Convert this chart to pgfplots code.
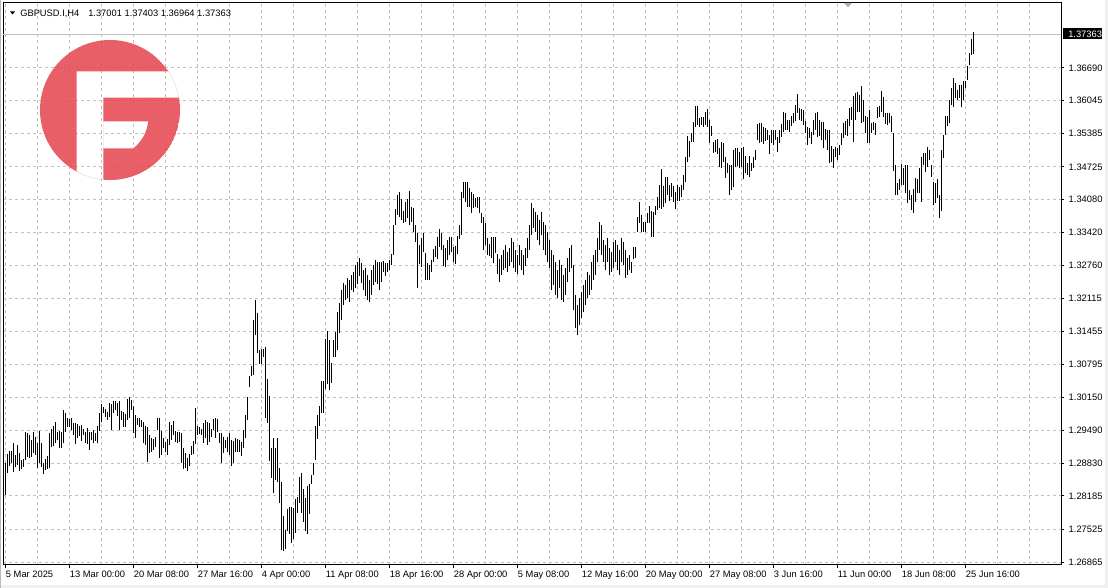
\documentclass[border=0pt]{standalone}
\usepackage{pgfplots}
\pgfplotsset{compat=1.18}
\usepackage{pgfplotstable}
\usepackage{fontspec}
\setmainfont{Liberation Sans}
\definecolor{gridc}{RGB}{192,192,192}
\definecolor{logored}{RGB}{230,73,83}
\definecolor{winbg}{RGB}{240,240,240}

\pgfplotstableread{
i lo hi
0 1.2820 1.2884
1 1.2864 1.2902
2 1.2878 1.2908
3 1.2884 1.2908
4 1.2866 1.2924
5 1.2876 1.2900
6 1.2880 1.2920
7 1.2868 1.2904
8 1.2872 1.2890
9 1.2876 1.2892
10 1.2890 1.2946
11 1.2896 1.2944
12 1.2894 1.2940
13 1.2896 1.2930
14 1.2904 1.2946
15 1.2900 1.2936
16 1.2874 1.2924
17 1.2884 1.2948
18 1.2876 1.2924
19 1.2862 1.2884
20 1.2870 1.2892
21 1.2872 1.2898
22 1.2874 1.2944
23 1.2916 1.2952
24 1.2918 1.2958
25 1.2924 1.2965
26 1.2930 1.2946
27 1.2914 1.2948
28 1.2914 1.2946
29 1.2924 1.2989
30 1.2946 1.2983
31 1.2956 1.2973
32 1.2956 1.2971
33 1.2950 1.2973
34 1.2940 1.2963
35 1.2922 1.2963
36 1.2934 1.2961
37 1.2938 1.2958
38 1.2928 1.2960
39 1.2940 1.2952
40 1.2924 1.2946
41 1.2922 1.2954
42 1.2910 1.2946
43 1.2930 1.2946
44 1.2924 1.2950
45 1.2928 1.2944
46 1.2924 1.2958
47 1.2948 1.2983
48 1.2965 1.3001
49 1.2983 1.2995
50 1.2975 1.2991
51 1.2969 1.2985
52 1.2975 1.3003
53 1.2950 1.3001
54 1.2983 1.3007
55 1.2989 1.3007
56 1.2977 1.3003
57 1.2950 1.3007
58 1.2969 1.2987
59 1.2956 1.2985
60 1.2956 1.2981
61 1.2969 1.3011
62 1.2973 1.3015
63 1.2989 1.3009
64 1.2944 1.2997
65 1.2934 1.2979
66 1.2959 1.2973
67 1.2956 1.2973
68 1.2956 1.2969
69 1.2924 1.2965
70 1.2920 1.2958
71 1.2886 1.2956
72 1.2904 1.2940
73 1.2906 1.2934
74 1.2910 1.2932
75 1.2916 1.2936
76 1.2950 1.2973
77 1.2894 1.2973
78 1.2900 1.2948
79 1.2914 1.2934
80 1.2906 1.2926
81 1.2900 1.2932
82 1.2920 1.2965
83 1.2930 1.2960
84 1.2940 1.2967
85 1.2926 1.2948
86 1.2924 1.2946
87 1.2926 1.2946
88 1.2884 1.2944
89 1.2872 1.2914
90 1.2874 1.2904
91 1.2868 1.2894
92 1.2878 1.2902
93 1.2900 1.2918
94 1.2902 1.2928
95 1.2922 1.2993
96 1.2940 1.2958
97 1.2942 1.2956
98 1.2940 1.2952
99 1.2924 1.2963
100 1.2934 1.2969
101 1.2920 1.2965
102 1.2926 1.2963
103 1.2936 1.2952
104 1.2950 1.2971
105 1.2934 1.2973
106 1.2946 1.2971
107 1.2924 1.2944
108 1.2884 1.2944
109 1.2904 1.2936
110 1.2914 1.2930
111 1.2906 1.2936
112 1.2900 1.2944
113 1.2878 1.2930
114 1.2884 1.2928
115 1.2906 1.2934
116 1.2906 1.2932
117 1.2906 1.2930
118 1.2898 1.2926
119 1.2914 1.2950
120 1.2934 1.2979
121 1.2969 1.3015
122 1.3035 1.3057
123 1.3057 1.3077
124 1.3059 1.3168
125 1.3138 1.3208
126 1.3103 1.3182
127 1.3081 1.3109
128 1.3081 1.3111
129 1.3095 1.3111
130 1.2973 1.3115
131 1.2963 1.3051
132 1.2888 1.3017
133 1.2854 1.2914
134 1.2824 1.2934
135 1.2850 1.2914
136 1.2846 1.2934
137 1.2805 1.2874
138 1.2711 1.2846
139 1.2709 1.2779
140 1.2713 1.2751
141 1.2749 1.2793
142 1.2743 1.2797
143 1.2725 1.2797
144 1.2733 1.2795
145 1.2745 1.2812
146 1.2785 1.2816
147 1.2805 1.2856
148 1.2785 1.2864
149 1.2767 1.2832
150 1.2749 1.2814
151 1.2743 1.2838
152 1.2783 1.2842
153 1.2842 1.2860
154 1.2860 1.2884
155 1.2890 1.2958
156 1.2932 1.2979
157 1.2958 1.2997
158 1.2983 1.3047
159 1.2983 1.3047
160 1.3031 1.3130
161 1.3041 1.3146
162 1.3029 1.3128
163 1.3043 1.3083
164 1.3095 1.3128
165 1.3095 1.3144
166 1.3109 1.3184
167 1.3142 1.3202
168 1.3168 1.3228
169 1.3198 1.3242
170 1.3208 1.3238
171 1.3212 1.3252
172 1.3204 1.3248
173 1.3228 1.3258
174 1.3224 1.3264
175 1.3232 1.3277
176 1.3240 1.3283
177 1.3256 1.3291
178 1.3242 1.3281
179 1.3228 1.3268
180 1.3216 1.3271
181 1.3208 1.3258
182 1.3204 1.3248
183 1.3218 1.3268
184 1.3238 1.3277
185 1.3244 1.3287
186 1.3240 1.3283
187 1.3228 1.3283
188 1.3244 1.3283
189 1.3264 1.3285
190 1.3256 1.3281
191 1.3264 1.3281
192 1.3267 1.3287
193 1.3277 1.3299
194 1.3297 1.3357
195 1.3357 1.3389
196 1.3377 1.3417
197 1.3373 1.3423
198 1.3367 1.3409
199 1.3361 1.3385
200 1.3363 1.3403
201 1.3371 1.3409
202 1.3357 1.3425
203 1.3363 1.3393
204 1.3343 1.3391
205 1.3323 1.3357
206 1.3232 1.3341
207 1.3279 1.3317
208 1.3273 1.3331
209 1.3303 1.3341
210 1.3248 1.3301
211 1.3248 1.3281
212 1.3248 1.3277
213 1.3264 1.3287
214 1.3283 1.3309
215 1.3293 1.3315
216 1.3289 1.3333
217 1.3313 1.3349
218 1.3307 1.3341
219 1.3275 1.3317
220 1.3273 1.3311
221 1.3287 1.3327
222 1.3297 1.3333
223 1.3303 1.3333
224 1.3283 1.3313
225 1.3279 1.3315
226 1.3299 1.3335
227 1.3329 1.3357
228 1.3337 1.3423
229 1.3411 1.3442
230 1.3403 1.3442
231 1.3393 1.3442
232 1.3393 1.3430
233 1.3381 1.3423
234 1.3391 1.3419
235 1.3393 1.3411
236 1.3391 1.3413
237 1.3381 1.3413
238 1.3361 1.3381
239 1.3307 1.3373
240 1.3317 1.3361
241 1.3297 1.3331
242 1.3295 1.3319
243 1.3291 1.3333
244 1.3281 1.3333
245 1.3301 1.3333
246 1.3260 1.3299
247 1.3244 1.3289
248 1.3258 1.3297
249 1.3268 1.3307
250 1.3271 1.3317
251 1.3264 1.3303
252 1.3275 1.3311
253 1.3283 1.3331
254 1.3271 1.3323
255 1.3264 1.3307
256 1.3260 1.3297
257 1.3277 1.3317
258 1.3268 1.3307
259 1.3258 1.3297
260 1.3275 1.3311
261 1.3291 1.3331
262 1.3307 1.3357
263 1.3337 1.3401
264 1.3351 1.3391
265 1.3343 1.3383
266 1.3327 1.3377
267 1.3317 1.3367
268 1.3337 1.3383
269 1.3307 1.3363
270 1.3297 1.3357
271 1.3283 1.3343
272 1.3271 1.3327
273 1.3228 1.3307
274 1.3238 1.3297
275 1.3218 1.3283
276 1.3212 1.3268
277 1.3232 1.3287
278 1.3208 1.3277
279 1.3204 1.3258
280 1.3218 1.3271
281 1.3244 1.3291
282 1.3264 1.3311
283 1.3271 1.3317
284 1.3188 1.3277
285 1.3152 1.3218
286 1.3138 1.3198
287 1.3158 1.3212
288 1.3172 1.3224
289 1.3184 1.3238
290 1.3198 1.3248
291 1.3212 1.3264
292 1.3218 1.3258
293 1.3228 1.3283
294 1.3248 1.3297
295 1.3258 1.3307
296 1.3283 1.3331
297 1.3307 1.3363
298 1.3297 1.3357
299 1.3283 1.3327
300 1.3267 1.3317
301 1.3283 1.3331
302 1.3258 1.3311
303 1.3264 1.3303
304 1.3271 1.3323
305 1.3283 1.3327
306 1.3267 1.3317
307 1.3258 1.3307
308 1.3283 1.3331
309 1.3277 1.3323
310 1.3252 1.3307
311 1.3258 1.3291
312 1.3267 1.3297
313 1.3262 1.3283
314 1.3289 1.3313
315 1.3291 1.3313
316 1.3343 1.3373
317 1.3361 1.3403
318 1.3343 1.3377
319 1.3343 1.3363
320 1.3343 1.3363
321 1.3361 1.3381
322 1.3361 1.3395
323 1.3333 1.3385
324 1.3333 1.3383
325 1.3377 1.3395
326 1.3387 1.3413
327 1.3391 1.3436
328 1.3389 1.3468
329 1.3393 1.3434
330 1.3401 1.3452
331 1.3417 1.3452
332 1.3405 1.3436
333 1.3413 1.3440
334 1.3403 1.3434
335 1.3389 1.3423
336 1.3405 1.3436
337 1.3405 1.3432
338 1.3413 1.3436
339 1.3426 1.3456
340 1.3442 1.3492
341 1.3482 1.3534
342 1.3492 1.3524
343 1.3522 1.3540
344 1.3522 1.3562
345 1.3552 1.3593
346 1.3556 1.3593
347 1.3552 1.3570
348 1.3556 1.3572
349 1.3552 1.3572
350 1.3556 1.3582
351 1.3552 1.3587
352 1.3520 1.3566
353 1.3534 1.3554
354 1.3500 1.3522
355 1.3502 1.3526
356 1.3498 1.3528
357 1.3472 1.3510
358 1.3470 1.3522
359 1.3482 1.3520
360 1.3450 1.3492
361 1.3460 1.3480
362 1.3417 1.3476
363 1.3426 1.3476
364 1.3432 1.3506
365 1.3472 1.3510
366 1.3474 1.3510
367 1.3470 1.3502
368 1.3472 1.3510
369 1.3448 1.3512
370 1.3460 1.3494
371 1.3456 1.3480
372 1.3452 1.3494
373 1.3464 1.3480
374 1.3470 1.3492
375 1.3486 1.3506
376 1.3526 1.3558
377 1.3520 1.3560
378 1.3522 1.3560
379 1.3518 1.3552
380 1.3524 1.3550
381 1.3526 1.3546
382 1.3498 1.3536
383 1.3520 1.3546
384 1.3516 1.3546
385 1.3526 1.3546
386 1.3502 1.3532
387 1.3520 1.3546
388 1.3532 1.3558
389 1.3542 1.3582
390 1.3546 1.3580
391 1.3546 1.3566
392 1.3542 1.3566
393 1.3554 1.3574
394 1.3560 1.3580
395 1.3564 1.3595
396 1.3580 1.3617
397 1.3566 1.3589
398 1.3564 1.3587
399 1.3556 1.3585
400 1.3540 1.3564
401 1.3516 1.3552
402 1.3530 1.3550
403 1.3518 1.3542
404 1.3536 1.3566
405 1.3546 1.3580
406 1.3532 1.3582
407 1.3534 1.3566
408 1.3526 1.3562
409 1.3510 1.3562
410 1.3526 1.3548
411 1.3506 1.3546
412 1.3480 1.3546
413 1.3482 1.3514
414 1.3470 1.3508
415 1.3492 1.3512
416 1.3486 1.3510
417 1.3496 1.3516
418 1.3516 1.3540
419 1.3530 1.3560
420 1.3536 1.3564
421 1.3534 1.3568
422 1.3554 1.3589
423 1.3566 1.3591
424 1.3522 1.3613
425 1.3566 1.3619
426 1.3581 1.3621
427 1.3581 1.3615
428 1.3560 1.3633
429 1.3562 1.3605
430 1.3540 1.3574
431 1.3520 1.3572
432 1.3520 1.3586
433 1.3540 1.3560
434 1.3546 1.3562
435 1.3536 1.3560
436 1.3570 1.3591
437 1.3572 1.3593
438 1.3581 1.3623
439 1.3572 1.3611
440 1.3558 1.3580
441 1.3556 1.3580
442 1.3560 1.3580
443 1.3542 1.3574
444 1.3464 1.3540
445 1.3417 1.3476
446 1.3417 1.3440
447 1.3426 1.3448
448 1.3436 1.3478
449 1.3436 1.3470
450 1.3420 1.3476
451 1.3401 1.3476
452 1.3407 1.3427
453 1.3387 1.3417
454 1.3381 1.3429
455 1.3403 1.3450
456 1.3420 1.3448
457 1.3420 1.3470
458 1.3403 1.3492
459 1.3476 1.3500
460 1.3462 1.3500
461 1.3472 1.3512
462 1.3486 1.3506
463 1.3452 1.3476
464 1.3397 1.3442
465 1.3401 1.3440
466 1.3411 1.3448
467 1.3371 1.3417
468 1.3385 1.3506
469 1.3490 1.3536
470 1.3536 1.3574
471 1.3554 1.3574
472 1.3560 1.3605
473 1.3595 1.3629
474 1.3591 1.3649
475 1.3609 1.3639
476 1.3605 1.3625
477 1.3609 1.3635
478 1.3591 1.3635
479 1.3605 1.3643
480 1.3629 1.3643
481 1.3645 1.3673
482 1.3675 1.3699
483 1.3695 1.3727
484 1.36964 1.37403
}\bars

\begin{document}
\fontsize{7}{8.4}\selectfont
\begin{tikzpicture}
\useasboundingbox (0,0) rectangle (831pt,441pt);
\fill[winbg] (0,0) rectangle (831pt,441pt);
\begin{scope}[x=0.75pt,y=-0.75pt,shift={(0pt,441pt)}]
  \fill[white] (1,0) rectangle (1105,585);
  \fill[gray!55] (0,0) rectangle (1,588);
\end{scope}
\begin{axis}[
  at={(2.25pt,17.25pt)}, anchor=south west,
  scale only axis, width=793.5pt, height=421.5pt,
  xmin=-1.35, xmax=527.65, ymin=1.26813, ymax=1.37980,
  axis line style={black, line width=0.75pt},
  xtick={0,32,...,480},
  xticklabels={5 Mar 2025,13 Mar 00:00,20 Mar 08:00,27 Mar 16:00,4 Apr 00:00,11 Apr 08:00,18 Apr 16:00,28 Apr 00:00,5 May 08:00,12 May 16:00,20 May 00:00,27 May 08:00,3 Jun 16:00,11 Jun 00:00,18 Jun 08:00,25 Jun 16:00},
  minor xtick={16,48,80,112,144,176,208,240,272,304,336,368,400,432,464,496,512},
  ytick={1.26865,1.27525,1.28185,1.28830,1.29490,1.30150,1.30795,1.31455,1.32115,1.32760,1.33420,1.34080,1.34725,1.35385,1.36045,1.36690},
  yticklabels={1.26865,1.27525,1.28185,1.28830,1.29490,1.30150,1.30795,1.31455,1.32115,1.32760,1.33420,1.34080,1.34725,1.35385,1.36045,1.36690},
  scaled y ticks=false,
  xtick pos=left, ytick pos=right, yticklabel pos=right,
  tick align=outside, major tick length=2.6pt, minor tick length=0pt,
  major tick style={black, line width=0.75pt},
  xmajorgrids, xminorgrids, ymajorgrids,
  major grid style={gridc, dash pattern=on 2.25pt off 2.25pt, line width=0.75pt},
  minor grid style={gridc, dash pattern=on 2.25pt off 2.25pt, line width=0.75pt},
  tick label style={font=\fontsize{7}{8.4}\selectfont, inner sep=0pt, text=black},
  yticklabel style={anchor=west, xshift=3pt},
  xticklabel style={anchor=north west, yshift=-1.8pt},
]
\draw[gridc, line width=0.75pt] (axis cs:-1.35,1.37363) -- (axis cs:527.65,1.37363);
\addplot[draw=none, mark=none, forget plot,
  error bars/.cd, y dir=plus, y explicit, error mark=none,
  error bar style={draw=black, line width=0.95pt, solid}]
  table[x=i, y=lo, y error plus expr=\thisrow{hi}-\thisrow{lo}] {\bars};
\end{axis}
\begin{scope}[x=0.75pt,y=-0.75pt,shift={(0pt,441pt)}]
  % price box
  \fill[black] (1063,28.5) rectangle (1102,39.5);
  \node[anchor=west, inner sep=0pt, text=white] at (1068,34) {1.37363};
  % title
  \fill[black] (10,11.5) -- (15,11.5) -- (12.5,14.5) -- cycle;
  \node[anchor=base west, inner sep=0pt] at (20,16.5) {GBPUSD.I,H4};
  \node[anchor=base west, inner sep=0pt] at (88,16.5) {1.37001 1.37403 1.36964 1.37363};
  % shift marker
  \fill[gray!60] (844,3) -- (852,3) -- (848,7.5) -- cycle;
  % logo
  \begin{scope}
    \clip (110,110) circle (70);
    \fill[logored, opacity=0.88, even odd rule] (110,110) circle (70)
      (76.7,71.5) -- (200,71.5) -- (200,97.7) -- (103.3,97.7) -- (103.3,200) -- (76.7,200) -- cycle
      (103.3,121.3) -- (148.3,121.3) .. controls (146.5,134) and (141,142) .. (133.5,148.3) -- (103.3,148.3) -- cycle;
  \end{scope}
\end{scope}
\end{tikzpicture}
\end{document}
